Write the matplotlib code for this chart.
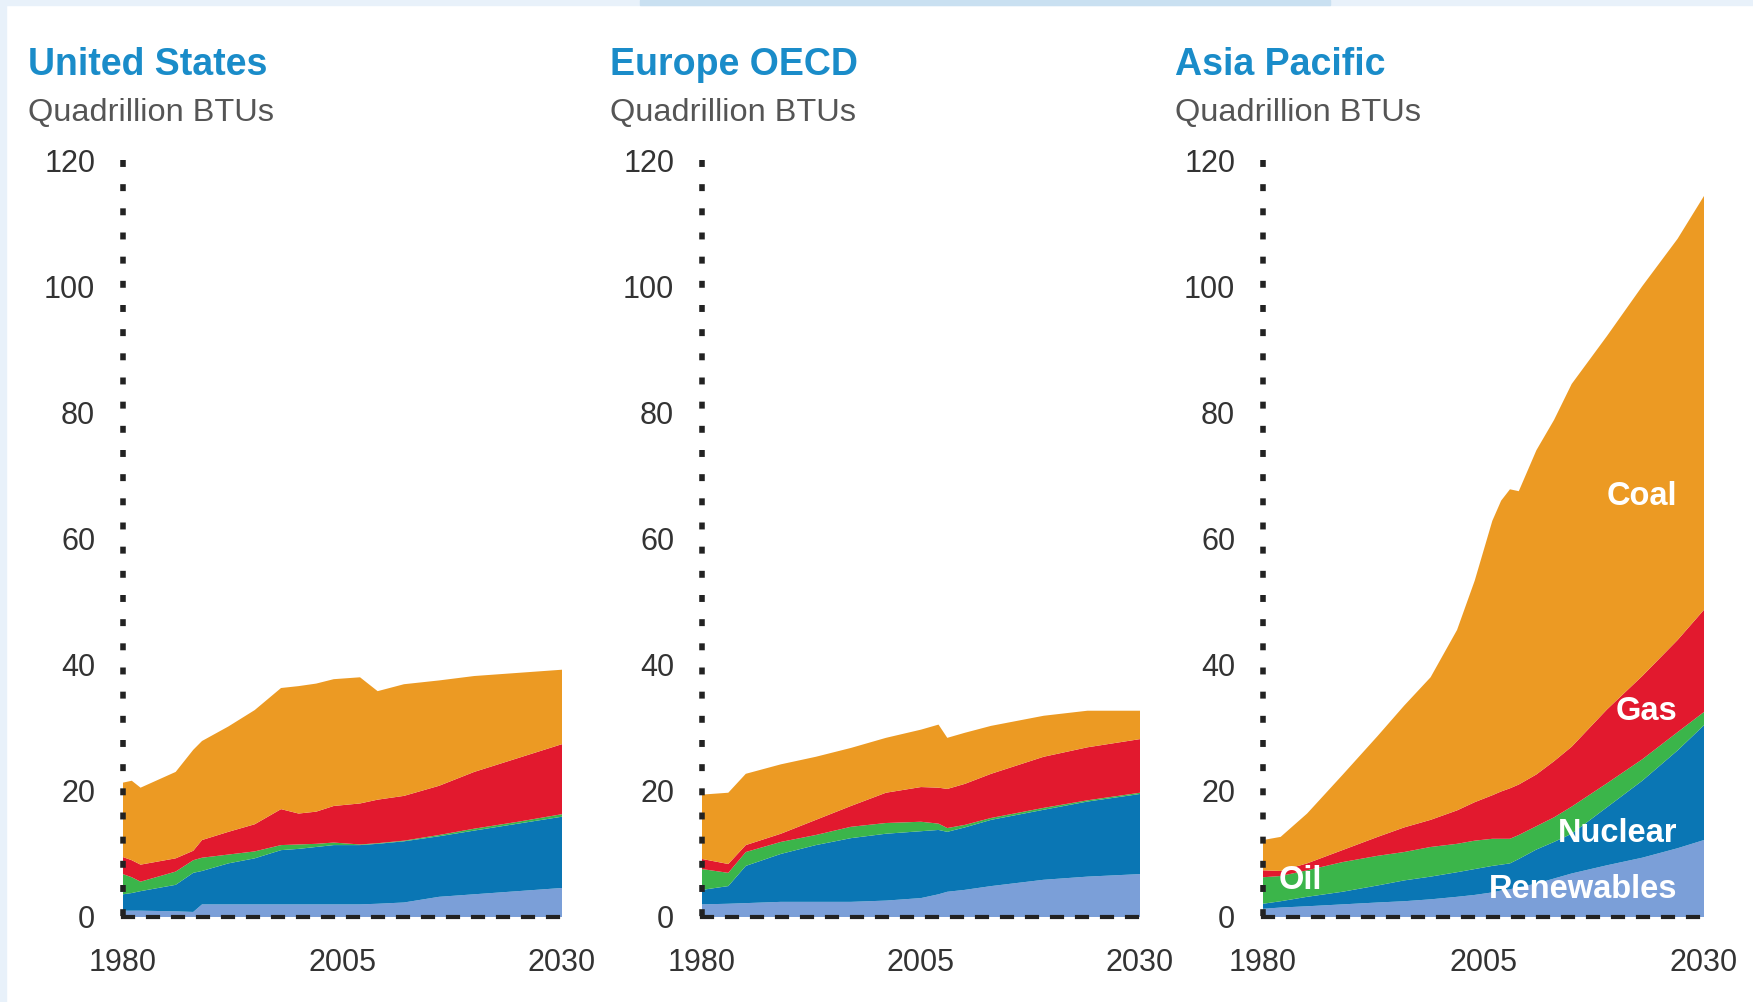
import matplotlib.pyplot as plt
from matplotlib.patches import Rectangle

plt.rcParams['font.family'] = ['Liberation Sans', 'DejaVu Sans']

# layers, bottom to top
fuels = ["Renewables", "Nuclear", "Oil", "Gas", "Coal"]
colors = ["#7b9fd8", "#0a76b4", "#3bb54a", "#e2192e", "#ec9a23"]

# United States (quadrillion BTUs per fuel)
us_years = [1980, 1981, 1982, 1986, 1988, 1989, 1992, 1995, 1998, 2000,
            2002, 2004, 2007, 2009, 2012, 2016, 2020, 2025, 2030]
us_renewables = [1.0, 1.0, 1.0, 0.9, 0.8, 2.0, 2.0, 2.0, 2.0, 2.0,
                 2.0, 2.0, 2.0, 2.1, 2.3, 3.2, 3.6, 4.1, 4.6]
us_nuclear = [2.6, 2.8, 3.1, 4.2, 6.2, 5.3, 6.5, 7.3, 8.6, 8.8,
              9.1, 9.4, 9.4, 9.5, 9.7, 9.6, 10.1, 10.7, 11.3]
us_oil = [3.2, 2.5, 1.5, 2.1, 2.0, 2.1, 1.4, 1.1, 0.8, 0.7,
          0.5, 0.4, 0.1, 0.1, 0.1, 0.2, 0.3, 0.3, 0.4]
us_gas = [2.7, 2.7, 2.7, 2.1, 1.5, 2.8, 3.6, 4.3, 5.7, 4.9,
          5.1, 5.8, 6.5, 6.9, 7.1, 7.8, 9.0, 10.1, 11.1]
us_coal = [11.8, 12.6, 12.2, 13.7, 16.0, 15.7, 16.7, 18.1, 19.2, 20.2,
           20.3, 20.1, 20.0, 17.2, 17.7, 16.7, 15.2, 13.5, 11.8]

# Europe OECD
eu_years = [1980, 1983, 1985, 1989, 1993, 1997, 2001, 2005, 2007, 2008,
            2010, 2013, 2019, 2024, 2030]
eu_renewables = [2.0, 2.1, 2.2, 2.4, 2.4, 2.4, 2.6, 3.0, 3.6, 4.0,
                 4.3, 4.9, 5.9, 6.4, 6.8]
eu_nuclear = [2.3, 2.8, 5.9, 7.6, 9.0, 10.1, 10.6, 10.6, 10.2, 9.5,
              9.9, 10.5, 11.1, 11.9, 12.7]
eu_oil = [3.3, 2.1, 2.2, 1.9, 1.6, 1.8, 1.7, 1.5, 1.0, 0.6,
          0.4, 0.3, 0.3, 0.2, 0.2]
eu_gas = [1.6, 1.4, 1.1, 1.3, 2.4, 3.3, 4.8, 5.5, 5.7, 6.2,
          6.5, 7.0, 8.1, 8.4, 8.5]
eu_coal = [10.2, 11.3, 11.3, 11.0, 10.0, 9.2, 8.7, 9.1, 10.0, 8.1,
           8.1, 7.6, 6.5, 5.8, 4.5]

# Asia Pacific
ap_years = [1980, 1982, 1985, 1989, 1993, 1996, 1999, 2002, 2004, 2006,
            2007, 2008, 2009, 2011, 2013, 2015, 2019, 2023, 2027, 2030]
ap_renewables = [1.3, 1.5, 1.7, 2.0, 2.3, 2.5, 2.8, 3.2, 3.5, 3.9,
                 4.2, 4.4, 4.7, 5.3, 6.1, 6.9, 8.2, 9.4, 10.9, 12.2]
ap_nuclear = [0.8, 1.0, 1.5, 2.0, 2.7, 3.3, 3.6, 3.9, 4.1, 4.2,
              4.1, 4.1, 4.5, 5.4, 5.8, 6.3, 9.2, 12.2, 15.5, 18.2]
ap_oil = [4.2, 4.0, 4.2, 4.7, 4.7, 4.5, 4.7, 4.5, 4.5, 4.3,
          4.1, 3.9, 3.8, 3.7, 3.9, 4.3, 3.8, 3.4, 2.9, 2.1]
ap_gas = [1.1, 0.8, 1.1, 1.9, 3.0, 3.9, 4.3, 5.3, 6.1, 6.9,
          7.5, 8.0, 8.0, 8.2, 8.9, 9.5, 11.7, 13.2, 14.6, 16.2]
ap_coal = [4.8, 5.4, 7.9, 11.9, 16.0, 19.3, 22.6, 28.6, 35.1, 43.5,
           46.1, 47.4, 46.5, 51.4, 54.1, 57.5, 59.2, 61.8, 63.6, 65.6]

regions = ["United States", "Europe OECD", "Asia Pacific"]
yticks = [0, 20, 40, 60, 80, 100, 120]
xticks = [1980, 2005, 2030]

panels = [
    (us_years, [us_renewables, us_nuclear, us_oil, us_gas, us_coal]),
    (eu_years, [eu_renewables, eu_nuclear, eu_oil, eu_gas, eu_coal]),
    (ap_years, [ap_renewables, ap_nuclear, ap_oil, ap_gas, ap_coal]),
]

W, H = 1753, 1002
fig = plt.figure(figsize=(W / 100, H / 100), dpi=100, facecolor="white")

# light blue frame on the left and top edges
fig.patches.append(Rectangle((0, 0), 6 / W, 1, transform=fig.transFigure,
                             color="#e8f1fa", zorder=-1))
fig.patches.append(Rectangle((0, 1 - 5 / H), 1, 5 / H, transform=fig.transFigure,
                             color="#e8f1fa", zorder=-1))
fig.patches.append(Rectangle((640 / W, 1 - 5 / H), 690 / W, 5 / H,
                             transform=fig.transFigure, color="#c9e0f1", zorder=-1))

ax_left = [123, 702, 1263]
ax_width = [439, 438, 441]
title_x = [28, 610, 1175]

for i, (years, layers) in enumerate(panels):
    ax = fig.add_axes([ax_left[i] / W, 85 / H, ax_width[i] / W, 757 / H])
    ax.stackplot(years, layers, colors=colors, linewidth=0)
    ax.set_xlim(1980, 2030)
    ax.set_ylim(0, 120)
    ax.set_xticks(xticks)
    ax.set_yticks(yticks)
    ax.tick_params(length=0, labelsize=22, labelcolor="#333333")
    ax.tick_params(axis="y", pad=20)
    ax.tick_params(axis="x", pad=22)
    ax.set_facecolor("none")
    for s in ["top", "right", "left"]:
        ax.spines[s].set_visible(False)
    # dotted y axis, drawn from the top so the first dot sits at 120
    ax.plot([1980, 1980], [120, 0], color="#222222", linewidth=4,
            linestyle=(0, (1.25, 3.1)), solid_capstyle="butt",
            dash_capstyle="butt", clip_on=False, zorder=3)
    ax.spines["bottom"].set_linestyle((0, (2.4, 3.6)))
    ax.spines["bottom"].set_linewidth(3)
    ax.spines["bottom"].set_color("#222222")

    fig.text(title_x[i] / W, 1 - 65 / H, regions[i], fontsize=27, fontweight="bold",
             color="#1a8cc9", va="center", ha="left")
    fig.text(title_x[i] / W, 1 - 113 / H, "Quadrillion BTUs", fontsize=23.4,
             color="#555555", va="center", ha="left")

    if i == 2:
        lab = dict(color="white", fontsize=23.5, fontweight="bold", va="center")
        ax.text(2027, 66.7, "Coal", ha="right", **lab)
        ax.text(2027, 32.6, "Gas", ha="right", **lab)
        ax.text(2027, 13.3, "Nuclear", ha="right", **lab)
        ax.text(2027, 4.3, "Renewables", ha="right", **lab)
        ax.text(1981.8, 5.8, "Oil", ha="left", **lab)

fig.savefig("out.png", dpi=100)
